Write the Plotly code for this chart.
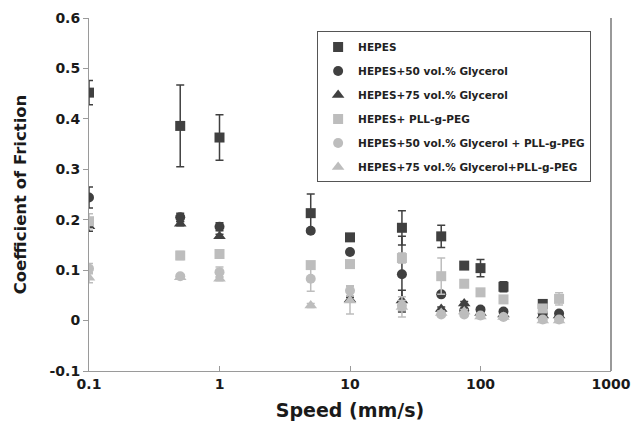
import plotly.graph_objects as go

speeds = [0.1, 0.5, 1, 5, 10, 25, 50, 75, 100, 150, 300, 400]

hepes = [0.452, 0.386, 0.363, 0.213, 0.165, 0.184, 0.167, 0.109, 0.104, 0.067, 0.033, None]
hepes_err = [0.024, 0.081, 0.045, 0.038, 0.004, 0.034, 0.022, 0.004, 0.017, 0.01, 0.004, None]

gly50 = [0.244, 0.205, 0.186, 0.178, 0.136, 0.092, 0.052, 0.02, 0.022, 0.018, 0.014, 0.014]
gly50_err = [0.021, 0.008, 0.008, 0.004, 0.004, 0.075, 0.004, 0.004, 0.004, 0.004, 0.004, 0.004]

gly75 = [0.187, 0.192, 0.167, None, 0.042, 0.04, 0.023, 0.034, 0.015, 0.012, 0.01, 0.01]
gly75_err = [0.01, 0.004, 0.004, None, 0.004, 0.02, 0.004, 0.004, 0.004, 0.004, 0.004, 0.004]

peg = [0.197, 0.129, 0.132, 0.110, 0.112, 0.124, 0.088, 0.073, 0.056, 0.042, 0.024, 0.043]
peg_err = [0.015, 0.008, 0.008, 0.004, 0.004, 0.01, 0.036, 0.004, 0.004, 0.004, 0.004, 0.012]

gly50_peg = [0.103, 0.088, 0.096, 0.083, 0.059, 0.03, 0.012, 0.012, 0.01, 0.007, 0.002, 0.002]
gly50_peg_err = [0.01, 0.004, 0.01, 0.025, 0.01, 0.01, 0.004, 0.004, 0.004, 0.004, 0.004, 0.004]

gly75_peg = [0.085, 0.086, 0.083, 0.030, 0.040, 0.027, 0.015, 0.018, 0.008, 0.007, 0.0, 0.0]
gly75_peg_err = [0.01, 0.004, 0.004, 0.004, 0.027, 0.02, 0.004, 0.004, 0.004, 0.004, 0.004, 0.004]

names = ["HEPES", "HEPES+50 vol.% Glycerol", "HEPES+75 vol.% Glycerol",
         "HEPES+ PLL-g-PEG", "HEPES+50 vol.% Glycerol + PLL-g-PEG",
         "HEPES+75 vol.% Glycerol+PLL-g-PEG"]

DARK = "#404040"
LIGHT = "#bdbdbd"

series = [
    (hepes, hepes_err, "square", DARK),
    (gly50, gly50_err, "circle", DARK),
    (gly75, gly75_err, "triangle-up", DARK),
    (peg, peg_err, "square", LIGHT),
    (gly50_peg, gly50_peg_err, "circle", LIGHT),
    (gly75_peg, gly75_peg_err, "triangle-up", LIGHT),
]

fig = go.Figure()
for i, ((ys, es, sym, col), name) in enumerate(zip(series, names)):
    fig.add_trace(go.Scatter(
        x=speeds, y=ys, name=name, mode="markers",
        legendgroup=f"g{i}",
        marker=dict(symbol=sym, size=10 if sym != "triangle-up" else 11, color=col,
                    line=dict(width=0)),
        error_y=dict(type="data", array=es, visible=True, color=col,
                     thickness=1.5, width=4),
    ))

fig.update_layout(
    width=634, height=429,
    margin=dict(l=89, r=23, t=18, b=58),
    plot_bgcolor="white", paper_bgcolor="white",
    font=dict(family="DejaVu Sans", color="#1a1a1a"),
    showlegend=True,
    legend=dict(x=0.437, y=0.962, xanchor="left", yanchor="top",
                bordercolor="#555555", borderwidth=1, bgcolor="white",
                font=dict(size=10.5, family="DejaVu Sans", weight="bold", color="#222222"),
                tracegroupgap=5, itemwidth=30),
    xaxis=dict(type="log", range=[-1, 3], showgrid=False, zeroline=False,
               automargin=False,
               showline=True, linecolor="#9a9a9a", linewidth=1,
               ticks="inside", ticklen=5, tickcolor="#9a9a9a",
               tickvals=[0.1, 1, 10, 100, 1000],
               ticktext=["0.1", "1", "10", "100", "1000"],
               tickfont=dict(size=14, weight="bold"),
               title=dict(text="Speed (mm/s)", font=dict(size=19, weight="bold"), standoff=12)),
    yaxis=dict(range=[-0.1, 0.6], showgrid=False, zeroline=False,
               automargin=False,
               showline=True, linecolor="#9a9a9a", linewidth=1,
               ticks="outside", ticklen=5, tickcolor="#9a9a9a",
               tickvals=[-0.1, 0, 0.1, 0.2, 0.3, 0.4, 0.5, 0.6],
               ticktext=["-0.1", "0", "0.1", "0.2", "0.3", "0.4", "0.5", "0.6"],
               tickfont=dict(size=14, weight="bold"),
               title=dict(text="Coefficient of Friction", font=dict(size=16.5, weight="bold"), standoff=18)),
    shapes=[dict(type="line", xref="paper", yref="paper", x0=1, x1=1, y0=0, y1=1,
                 line=dict(color="#777777", width=1.5))],
)

fig.write_html("out.html", config={"displayModeBar": False},
               post_script="document.body.style.margin='0';document.body.style.overflow='hidden';")
